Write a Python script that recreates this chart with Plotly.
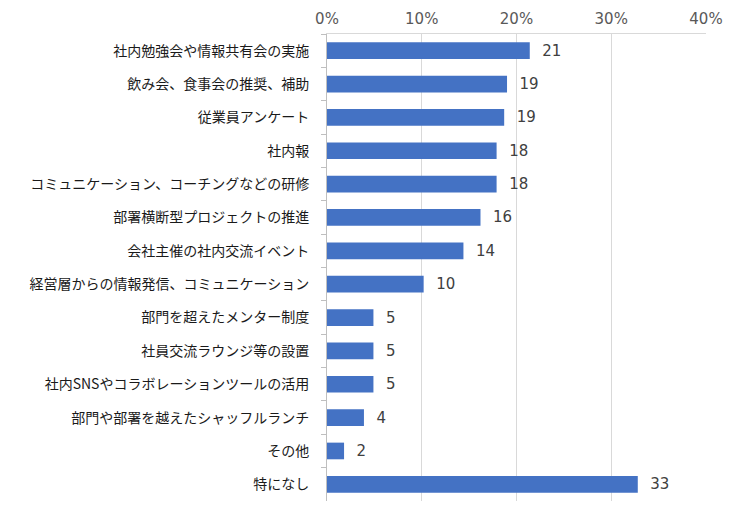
import plotly.graph_objects as go

categories = [
    "社内勉強会や情報共有会の実施",
    "飲み会、食事会の推奨、補助",
    "従業員アンケート",
    "社内報",
    "コミュニケーション、コーチングなどの研修",
    "部署横断型プロジェクトの推進",
    "会社主催の社内交流イベント",
    "経営層からの情報発信、コミュニケーション",
    "部門を超えたメンター制度",
    "社員交流ラウンジ等の設置",
    "社内SNSやコラボレーションツールの活用",
    "部門や部署を越えたシャッフルランチ",
    "その他",
    "特になし",
]
values = [21.4, 19.0, 18.7, 17.9, 17.9, 16.2, 14.4, 10.2, 4.9, 4.9, 4.9, 3.9, 1.8, 32.8]
x_ticks = [0, 10, 20, 30, 40]
x_tick_labels = ["0%", "10%", "20%", "30%", "40%"]

font_family = "Noto Sans CJK JP, Noto Sans, sans-serif"
num_font = "DejaVu Sans, Verdana, sans-serif"

fig = go.Figure(
    go.Bar(
        y=categories,
        x=values,
        orientation="h",
        marker=dict(color="#4472C4", line=dict(width=0)),
        width=0.5,
        text=values,
        texttemplate="\u00a0\u00a0%{x:.0f}",
        textposition="outside",
        constraintext="none",
        textfont=dict(size=15, color="#404040", family=num_font),
        cliponaxis=False,
    )
)

fig.update_layout(
    width=750,
    height=512,
    margin=dict(l=319, r=52, t=26, b=19),
    paper_bgcolor="white",
    plot_bgcolor="white",
    showlegend=False,
    font=dict(family=font_family),
    xaxis=dict(
        side="top",
        range=[0, 40],
        tickvals=x_ticks,
        ticktext=x_tick_labels,
        showgrid=True,
        gridcolor="#d9d9d9",
        gridwidth=1,
        showline=True,
        linecolor="#d9d9d9",
        mirror=False,
        zeroline=False,
        ticks="",
        automargin=False,
        ticklabelstandoff=3,
        tickfont=dict(size=15, color="#595959", family=num_font),
    ),
    yaxis=dict(
        autorange="reversed",
        showline=True,
        linecolor="#bfbfbf",
        linewidth=1,
        ticks="outside",
        tickson="boundaries",
        ticklen=5,
        tickcolor="#bfbfbf",
        showgrid=False,
        automargin=False,
        tickfont=dict(size=14, color="#1a1a1a", family=font_family),
        ticklabelstandoff=14,
    ),
)

fig.write_html("out.html")
